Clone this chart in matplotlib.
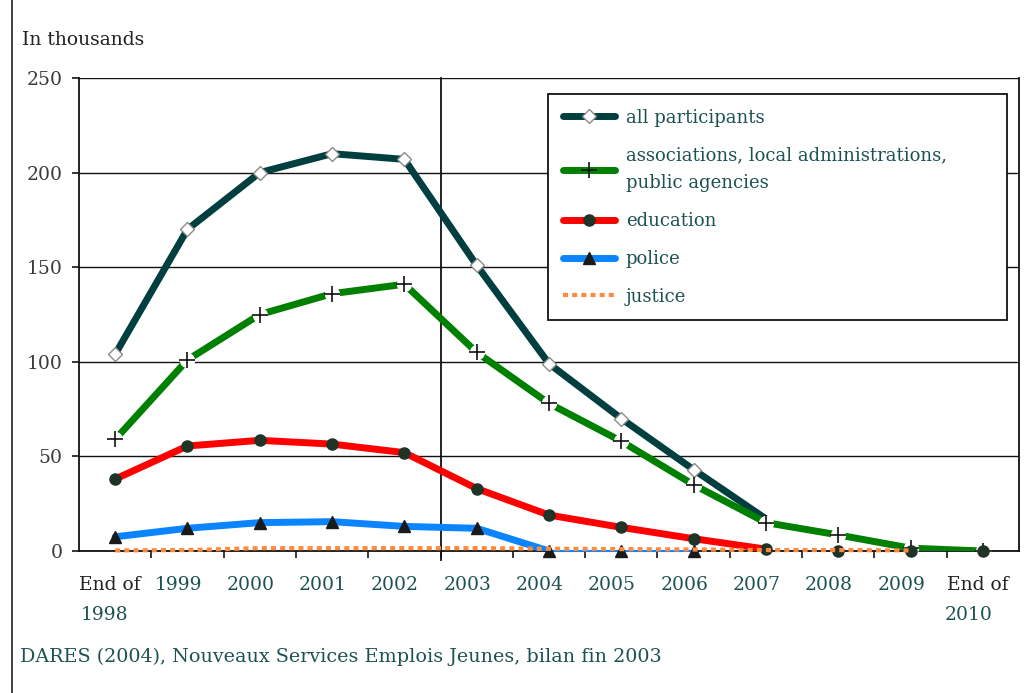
import numpy as np
import matplotlib.pyplot as plt
from matplotlib.lines import Line2D
import matplotlib.transforms as mtransforms

plt.rcParams['font.family'] = ['DejaVu Serif']

years = ['End of 1998', '1999', '2000', '2001', '2002', '2003', '2004',
         '2005', '2006', '2007', '2008', '2009', 'End of 2010']
nan = np.nan
all_participants = [104, 170, 200, 210, 207, 151, 99, 70, 43, 17, nan, nan, nan]
associations = [59, 101, 125, 136, 141, 105, 78, 58, 35, 15, 8.5, 1.5, 0]
education = [38, 55.5, 58.5, 56.5, 52, 33, 19, 12.5, 6.5, 1, 0, 0, 0]
police = [7.5, 12, 15, 15.5, 13, 12, 0, 0, 0, nan, nan, nan, nan]
justice = [0.3, 0.5, 1.5, 1.5, 1.5, 1.5, 1.2, 1, 0.8, 0.5, 0.5, 0.3, nan]

TEAL = '#1d5252'
DARK = '#003f3f'

fig = plt.figure(figsize=(10.26, 6.93), dpi=100)
ax = fig.add_axes([79 / 1026, 1 - 551 / 693, 940 / 1026, 473 / 693])
x = np.arange(len(years))

# gridlines
ax.set_ylim(0, 250)
ax.set_xlim(-0.5, len(years) - 0.5)
ax.set_yticks([0, 50, 100, 150, 200, 250])
ax.yaxis.grid(True, color='#111111', lw=1.0)
ax.set_axisbelow(True)
for s in ax.spines.values():
    s.set_color('#111111')
    s.set_linewidth(1.3)
ax.spines['top'].set_visible(False)

ax.tick_params(axis='y', direction='out', length=5, width=1.1, pad=7,
               labelsize=13.5, labelcolor='#3a3a3a')
ax.set_xticks([])
ax.set_xticks(np.arange(0.5, len(years) - 1, 1), minor=True)
ax.tick_params(axis='x', which='minor', direction='out', length=5, width=1.1)

# vertical marker between 2002 and 2003
ax.axvline(4.5, ymin=-0.02, ymax=1, color='#111111', lw=1.3, clip_on=False, zorder=1)

lw = 5.0
# all participants
ax.plot(x, all_participants, color=DARK, lw=lw, solid_capstyle='round', zorder=3)
ax.plot(x[:9], all_participants[:9], ls='none', marker='D', ms=7, mfc='white',
        mec='#8a8a8a', mew=1.0, zorder=3)
# associations
ax.plot(x, associations, color='#008000', lw=lw, solid_capstyle='round', zorder=4)
ax.plot(x, associations, ls='none', marker='o', ms=11, mfc='white', mec='none', zorder=4)
ax.plot(x, associations, ls='none', marker='+', ms=11, mec='#111111', mew=1.2, zorder=4)
# education
ax.plot(x[:10], education[:10], color='#ff0000', lw=lw, solid_capstyle='round', zorder=5)
ax.plot(x, education, ls='none', marker='o', ms=8, mfc='#1f3326', mec='#1f3326',
        zorder=5, clip_on=False)
# police
ax.plot(x[:7], police[:7], color='#0a84ff', lw=lw, solid_capstyle='round', zorder=6)
ax.plot(x[6:9], police[6:9], color='#0a84ff', lw=1.5, zorder=6, clip_on=False)
ax.plot(x, police, ls='none', marker='^', ms=8, mfc='#1a1a1a', mec='#1a1a1a',
        zorder=6, clip_on=False)
# justice
ax.plot(x, justice, color='#ff8a3d', lw=3.0, ls=(0, (1.2, 1.0)), zorder=7, clip_on=False)

# legend
handles = [
    Line2D([], [], color=DARK, lw=lw, solid_capstyle='round', marker='D', ms=7,
           mfc='white', mec='#8a8a8a'),
    Line2D([], [], color='#008000', lw=lw, solid_capstyle='round', marker='+', ms=11,
           mec='#111111', mew=1.2),
    Line2D([], [], color='#ff0000', lw=lw, solid_capstyle='round', marker='o', ms=8,
           mfc='#1f3326', mec='#1f3326'),
    Line2D([], [], color='#0a84ff', lw=lw, solid_capstyle='round', marker='^', ms=8,
           mfc='#1a1a1a', mec='#1a1a1a'),
    Line2D([], [], color='#ff8a3d', lw=3.0, ls=(0, (1.2, 1.0))),
]
labels = ['all participants',
          'associations, local administrations,\npublic agencies',
          'education', 'police', 'justice']
leg = ax.legend(handles, labels, loc='upper left',
                bbox_to_anchor=(0.499, 0.966, 0.488, 0.0), mode='expand',
                borderaxespad=0, fontsize=13, labelcolor=TEAL, handlelength=2.9,
                handletextpad=0.6, labelspacing=1.1, borderpad=0.8, numpoints=1,
                fancybox=False, framealpha=1, edgecolor='#111111')
leg.get_frame().set_linewidth(1.3)
for t in leg.get_texts():
    t.set_linespacing(1.7)

# x labels
trans = mtransforms.blended_transform_factory(ax.transData, ax.transAxes)
for i, lab in enumerate(years):
    if lab.startswith('End of'):
        ax.text(i - 0.07, -0.072, 'End of', transform=trans, ha='center', va='center',
                fontsize=13.5, color='#222222')
        ax.text(i - (0.14 if i == 0 else 0.2), -0.135, lab.split()[-1], transform=trans,
                ha='center', va='center', fontsize=13.5, color=TEAL)
    else:
        ax.text(i - 0.13, -0.072, lab, transform=trans, ha='center', va='center',
                fontsize=13.5, color=TEAL)

fig.text(22 / 1026, 1 - 40 / 693, 'In thousands', ha='left', va='center',
         fontsize=13.5, color='#222222')
fig.text(20 / 1026, 1 - 657 / 693,
         'DARES (2004), Nouveaux Services Emplois Jeunes, bilan fin 2003',
         ha='left', va='center', fontsize=13.8, color=TEAL)
fig.add_artist(Line2D([12 / 1026, 12 / 1026], [0, 1], color='#333333', lw=1.3))

fig.savefig('out.png', dpi=100)
